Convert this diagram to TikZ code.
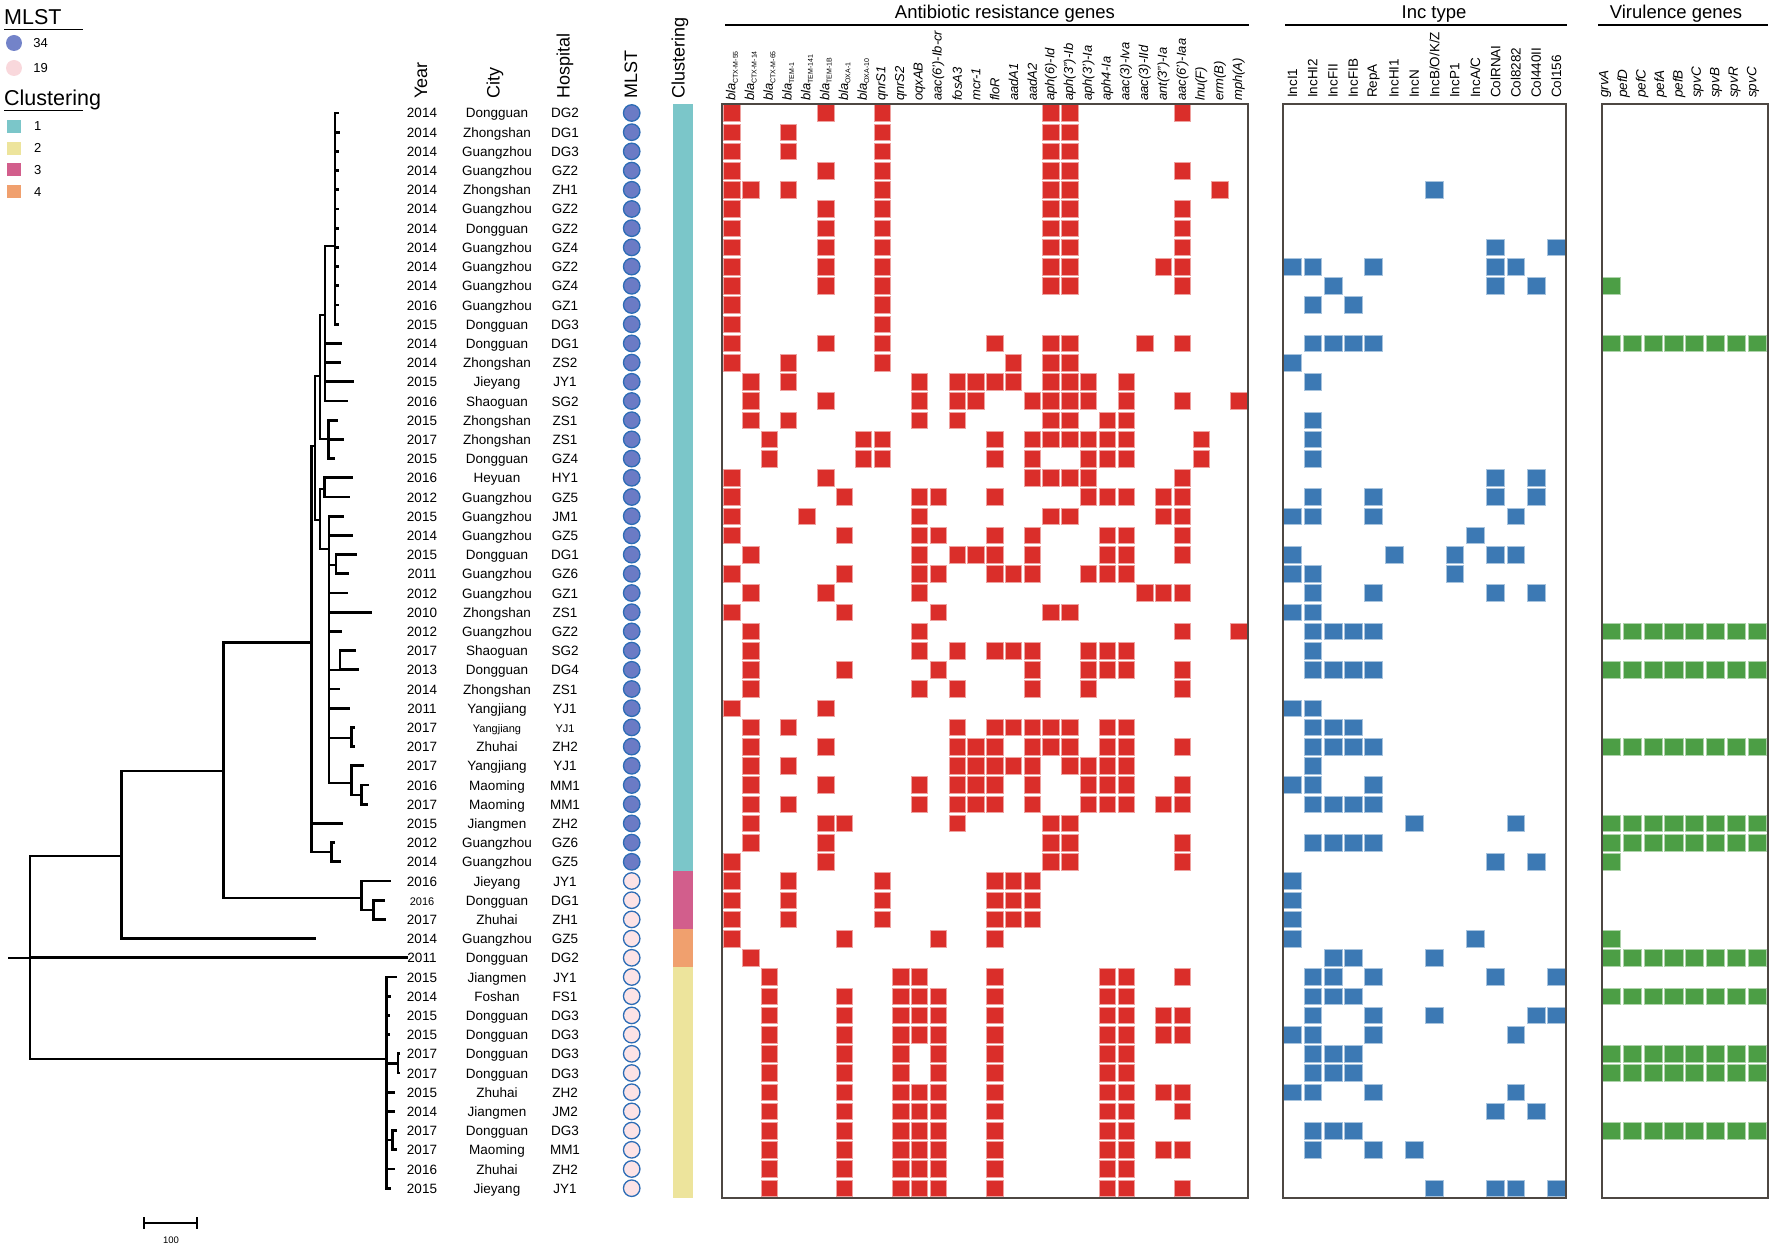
\documentclass[tikz,border=0pt]{standalone}
\usepackage{fontspec}
\setmainfont{Liberation Sans}
\usetikzlibrary{positioning}

\definecolor{clteal}{HTML}{7BC6C9}
\definecolor{clyellow}{HTML}{EDE49C}
\definecolor{clpink}{HTML}{D25E8C}
\definecolor{clorange}{HTML}{F0A06E}
\definecolor{abred}{HTML}{DA2E2A}
\definecolor{incblue}{HTML}{3C79B4}
\definecolor{virgreen}{HTML}{4C9E45}
\definecolor{stblue}{HTML}{6B7BC5}
\definecolor{stpink}{HTML}{FCE3E6}
\definecolor{stedge}{HTML}{2C6CB5}
\definecolor{legblue}{HTML}{7383C9}
\definecolor{legpink}{HTML}{F9D8DC}
\definecolor{framec}{HTML}{4D4742}

\newcommand\smtxt{\fontsize{11}{13}\selectfont}
\newcommand\blalab[1]{\textit{bla}\raisebox{-2.4pt}{\fontsize{7}{8}\selectfont\upshape #1}}

\begin{document}
\begin{tikzpicture}[x=1pt, y=-1pt,
  declare function={ry(\n)=113+19.2*(\n-1);},
  branch/.style={line width=2.8pt, line cap=rect},
  lab/.style={anchor=base, inner sep=0pt, font=\fontsize{13.5}{16}\selectfont},
  colhead/.style={rotate=90, anchor=west, inner sep=0pt, font=\fontsize{18}{20}\selectfont},
  abhead/.style={rotate=90, anchor=west, inner sep=0pt, font=\itshape\fontsize{13}{15}\selectfont},
  inchead/.style={rotate=90, anchor=west, inner sep=0pt, font=\fontsize{13.5}{15}\selectfont},
  virhead/.style={inchead, font=\itshape\fontsize{13.5}{15}\selectfont},
  title/.style={anchor=base, inner sep=0pt, font=\fontsize{18.5}{21}\selectfont},
  legtitle/.style={anchor=base west, inner sep=0pt, font=\fontsize{21.5}{24}\selectfont},
  legtext/.style={anchor=west, inner sep=0pt, font=\fontsize{13}{15}\selectfont},
  legbox/.style={minimum width=14pt, minimum height=13pt, inner sep=0pt},
  rule/.style={line width=2.4pt},
  frame/.style={draw=framec, line width=2pt},
  abcell/.style={fill=abred, draw=abred!45!white, line width=0.7pt},
  inccell/.style={fill=incblue, draw=incblue!45!white, line width=0.7pt},
  vircell/.style={fill=virgreen, draw=virgreen!45!white, line width=0.7pt},
  st34/.style={circle, minimum size=16.5pt, inner sep=0pt, fill=stblue, draw=stedge, line width=1.3pt},
  st19/.style={st34, fill=stpink}]

  \useasboundingbox (0,0) rectangle (1772,1249);

  % legend
  \node[legtitle] (mlsttitle) at (4,25) {MLST};
  \draw[line width=1.6pt] (4,29.5) -- (83,29.5);
  \node[circle, fill=legblue, minimum size=16pt, inner sep=0pt] (leg34) at (14,43) {};
  \node[legtext, right=11pt of leg34] (leg34t) {34};
  \node[circle, fill=legpink, minimum size=16pt, inner sep=0pt] (leg19) at (14,68) {};
  \node[legtext, right=11pt of leg19] (leg19t) {19};
  \node[legtitle] (cltitle) at (4,105.5) {Clustering};
  \draw[line width=1.6pt] (4,110.5) -- (83,110.5);
  \node[legbox, fill=clteal] (legc1) at (13.7,126.3) {};
  \node[legbox, fill=clyellow] (legc2) at (13.7,148.3) {};
  \node[legbox, fill=clpink] (legc3) at (13.7,170) {};
  \node[legbox, fill=clorange] (legc4) at (13.7,192) {};
  \foreach \k in {1,...,4}
    \node[legtext, right=13pt of legc\k] (legc\k t) {\k};

  % column headers
  \node[colhead] (hyear) at (421,99) {Year};
  \node[colhead] (hcity) at (495,99) {City};
  \node[colhead] (hhosp) at (565,99) {Hospital};
  \node[colhead] (hmlst) at (631,99) {MLST};
  \node[colhead] (hclust) at (680,99) {Clustering};

  \node[title] (abtitle) at (1005,19) {Antibiotic resistance genes};
  \draw[rule] (725,25) -- (1249,25);
  \node[title] (inctitle) at (1434,19) {Inc type};
  \draw[rule] (1285,25) -- (1567,25);
  \node[title] (virtitle) at (1676,19) {Virulence genes};
  \draw[rule] (1598,25) -- (1768,25);

  \foreach \nm [count=\k from 0] in {{\blalab{CTX-M-55}}, {\blalab{CTX-M-14}},
      {\blalab{CTX-M-65}}, {\blalab{TEM-1}}, {\blalab{TEM-141}}, {\blalab{TEM-1B}},
      {\blalab{OXA-1}}, {\blalab{OXA-10}}, qnrS1, qnrS2, oqxAB, aac(6')-Ib-cr, fosA3,
      mcr-1, floR, aadA1, aadA2, aph(6)-Id, aph(3")-Ib, aph(3')-Ia, aph4-Ia, aac(3)-Iva,
      aac(3)-IId, ant(3")-Ia, aac(6')-Iaa, lnu(F), erm(B), mph(A)}
    \node[abhead] (ab\k) at ({731.9+18.77*\k},101) {\nm};
  \foreach \nm [count=\k from 0] in {IncI1, IncHI2, IncFII, IncFIB, RepA, IncHI1, IncN,
      IncB/O/K/Z, IncP1, IncA/C, ColRNAI, Col8282, Col440II, Col156}
    \node[inchead] (inc\k) at ({1292.5+20.3*\k},98) {\nm};
  \foreach \nm [count=\k from 0] in {grvA, pefD, pefC, pefA, pefB, spvC, spvB, spvR, spvC}
    \node[virhead] (vir\k) at ({1605+18.5*\k},98) {\nm};

  % isolates
  \foreach \yr/\ct/\hp [count=\r] in {2014/Dongguan/DG2, 2014/Zhongshan/DG1,
      2014/Guangzhou/DG3, 2014/Guangzhou/GZ2, 2014/Zhongshan/ZH1, 2014/Guangzhou/GZ2,
      2014/Dongguan/GZ2, 2014/Guangzhou/GZ4, 2014/Guangzhou/GZ2, 2014/Guangzhou/GZ4,
      2016/Guangzhou/GZ1, 2015/Dongguan/DG3, 2014/Dongguan/DG1, 2014/Zhongshan/ZS2,
      2015/Jieyang/JY1, 2016/Shaoguan/SG2, 2015/Zhongshan/ZS1, 2017/Zhongshan/ZS1,
      2015/Dongguan/GZ4, 2016/Heyuan/HY1, 2012/Guangzhou/GZ5, 2015/Guangzhou/JM1,
      2014/Guangzhou/GZ5, 2015/Dongguan/DG1, 2011/Guangzhou/GZ6, 2012/Guangzhou/GZ1,
      2010/Zhongshan/ZS1, 2012/Guangzhou/GZ2, 2017/Shaoguan/SG2, 2013/Dongguan/DG4,
      2014/Zhongshan/ZS1, 2011/Yangjiang/YJ1, 2017/{\smtxt Yangjiang}/{\smtxt YJ1},
      2017/Zhuhai/ZH2, 2017/Yangjiang/YJ1, 2016/Maoming/MM1, 2017/Maoming/MM1,
      2015/Jiangmen/ZH2, 2012/Guangzhou/GZ6, 2014/Guangzhou/GZ5, 2016/Jieyang/JY1,
      {\smtxt 2016}/Dongguan/DG1, 2017/Zhuhai/ZH1, 2014/Guangzhou/GZ5, 2011/Dongguan/DG2,
      2015/Jiangmen/JY1, 2014/Foshan/FS1, 2015/Dongguan/DG3, 2015/Dongguan/DG3,
      2017/Dongguan/DG3, 2017/Dongguan/DG3, 2015/Zhuhai/ZH2, 2014/Jiangmen/JM2,
      2017/Dongguan/DG3, 2017/Maoming/MM1, 2016/Zhuhai/ZH2, 2015/Jieyang/JY1} {
    \node[lab] (yr\r) at (422,{ry(\r)+5}) {\yr};
    \node[lab] (city\r) at (497,{ry(\r)+5}) {\ct};
    \node[lab] (hosp\r) at (565,{ry(\r)+5}) {\hp};
  }
  \foreach \r in {1,...,40}
    \node[st34] (mlst\r) at (631.7,{ry(\r)}) {};
  \foreach \r in {41,...,57}
    \node[st19] (mlst\r) at (631.7,{ry(\r)}) {};

  % clustering bar
  \fill[clteal] (673,104) rectangle (693,871.4);
  \fill[clpink] (673,871.4) rectangle (693,929);
  \fill[clorange] (673,929) rectangle (693,967.4);
  \fill[clyellow] (673,967.4) rectangle (693,1198);

  % antibiotic resistance genes
  \foreach \r/\cols in {1/{0,5,8,17,18,24}, 2/{0,3,8,17,18}, 3/{0,3,8,17,18},
      4/{0,5,8,17,18,24}, 5/{0,1,3,8,17,18,26}, 6/{0,5,8,17,18,24}, 7/{0,5,8,17,18,24},
      8/{0,5,8,17,18,24}, 9/{0,5,8,17,18,23,24}, 10/{0,5,8,17,18,24}, 11/{0,8}, 12/{0,8},
      13/{0,5,8,14,17,18,22,24}, 14/{0,3,8,15,17,18},
      15/{1,3,10,12,13,14,15,17,18,19,21}, 16/{1,5,10,12,13,16,17,18,19,21,24,27},
      17/{1,3,10,12,17,18,20,21}, 18/{2,7,8,14,16,17,18,19,20,21,25},
      19/{2,7,8,14,16,19,20,21,25}, 20/{0,5,16,17,18,19,24},
      21/{0,6,10,11,14,19,20,21,23,24}, 22/{0,4,10,17,18,23,24},
      23/{0,6,10,11,14,16,20,21,24}, 24/{1,10,12,13,14,16,20,21,24},
      25/{0,6,10,11,14,15,16,19,20,21}, 26/{1,5,10,22,23,24}, 27/{0,6,11,17,18},
      28/{1,10,24,27}, 29/{1,10,12,14,15,16,19,20,21}, 30/{1,6,11,16,19,20,21,24},
      31/{1,10,12,16,19,24}, 32/{0,5}, 33/{1,3,12,14,15,16,17,18,20,21},
      34/{1,5,12,13,14,16,17,18,20,21,24}, 35/{1,3,12,13,14,15,16,18,19,20,21},
      36/{1,5,10,12,13,14,16,19,20,21,24}, 37/{1,3,10,12,13,14,16,19,20,21,23,24},
      38/{1,5,6,12,17,18}, 39/{1,5,17,18,24}, 40/{0,5,17,18,24}, 41/{0,3,8,14,15,16},
      42/{0,3,8,14,15,16}, 43/{0,3,8,14,15,16}, 44/{0,6,11,14}, 45/{1},
      46/{2,9,10,14,20,21,24}, 47/{2,6,9,10,11,14,20,21},
      48/{2,6,9,10,11,14,20,21,23,24}, 49/{2,6,9,10,11,14,20,21,23,24},
      50/{2,6,9,11,14,20,21}, 51/{2,6,9,11,14,20,21}, 52/{2,6,9,10,11,14,20,21,23,24},
      53/{2,6,9,10,11,14,20,21,24}, 54/{2,6,9,10,11,14,20,21},
      55/{2,6,9,10,11,14,20,21,23,24}, 56/{2,6,9,10,11,14,20,21},
      57/{2,6,9,10,11,14,20,21,24}}
    \foreach \c in \cols
      \draw[abcell] ({731.9+18.77*\c-8.2},{ry(\r)-8.3}) rectangle ++(16.4,16.6);

  % Inc types
  \foreach \r/\cols in {5/{7}, 8/{10,13}, 9/{0,1,4,10,11}, 10/{2,10,12}, 11/{1,3},
      13/{1,2,3,4}, 14/{0}, 15/{1}, 17/{1}, 18/{1}, 19/{1}, 20/{10,12}, 21/{1,4,10,12},
      22/{0,1,4,11}, 23/{9}, 24/{0,5,8,10,11}, 25/{0,1,8}, 26/{1,4,10,12}, 27/{0,1},
      28/{1,2,3,4}, 29/{1}, 30/{1,2,3,4}, 32/{0,1}, 33/{1,2,3}, 34/{1,2,3,4}, 35/{1},
      36/{0,1,4}, 37/{1,2,3,4}, 38/{6,11}, 39/{1,2,3,4}, 40/{10,12}, 41/{0}, 42/{0},
      43/{0}, 44/{0,9}, 45/{2,3,7}, 46/{1,2,4,10,13}, 47/{1,2,3}, 48/{1,4,7,12,13},
      49/{0,1,4,11}, 50/{1,2,3}, 51/{1,2,3}, 52/{0,1,4,11}, 53/{10,12}, 54/{1,2,3},
      55/{1,4,6}, 57/{7,10,11,13}}
    \foreach \c in \cols
      \draw[inccell] ({1292.5+20.3*\c-8.9},{ry(\r)-8.3}) rectangle ++(17.8,16.6);

  % virulence genes
  \foreach \r/\cols in {10/{0}, 13/{0,...,7}, 28/{0,...,7}, 30/{0,...,7}, 34/{0,...,7},
      38/{0,...,7}, 39/{0,...,7}, 40/{0}, 44/{0}, 45/{0,...,7}, 47/{0,...,7},
      50/{0,...,7}, 51/{0,...,7}, 54/{0,...,7}}
    \foreach \c in \cols
      \draw[vircell] ({1611.5+20.8*\c-9.1},{ry(\r)-8.3}) rectangle ++(18.2,16.6);

  \draw[frame] (722,104) rectangle (1248,1198);
  \draw[frame] (1283,104) rectangle (1566,1198);
  \draw[frame] (1602,104) rectangle (1768,1198);

  % tree
  \foreach \r/\tx in {1/337.5, 2/338.5, 3/337.5, 4/337.5, 5/337.5, 6/337.5, 7/337.5,
      8/337.5, 9/337.5, 10/337.5, 11/337.5, 12/337.5, 13/340.7, 14/340, 15/353,
      16/346.7, 17/336.7, 18/342.7, 19/333.3, 20/351.7, 21/349, 22/342.7, 23/351.7,
      24/356, 25/347.3, 26/346.7, 27/371, 28/340.7, 29/354.3, 30/357.7, 31/338.3,
      32/349, 33/353.5, 34/353.5, 35/362.3, 36/367.7, 37/366.7, 38/341.7, 39/333.5,
      40/340, 41/389.3, 42/383.3, 43/385, 44/314.3, 45/407, 46/396, 47/390, 48/389,
      49/389, 50/399, 51/399, 52/394, 53/394, 54/396, 55/396, 56/394, 57/390}
    \coordinate (t\r) at (\tx,{ry(\r)});

  \coordinate (T) at (335,246);
  \coordinate (A) at (325,315);
  \coordinate (S) at (328.3,439);
  \coordinate (B) at (320,376);
  \coordinate (C) at (315,446);
  \coordinate (D) at (320,520);
  \coordinate (E) at (324.3,489);
  \coordinate (F) at (329,549);
  \coordinate (F1) at (336,565);
  \coordinate (F2) at (340,670);
  \coordinate (F3) at (351.7,738);
  \coordinate (F4) at (351.7,783);
  \coordinate (F5) at (361.7,795);
  \coordinate (G) at (311.7,642.5);
  \coordinate (H) at (331.7,852);
  \coordinate (I) at (223.3,771);
  \coordinate (J) at (361.7,898);
  \coordinate (K) at (373.3,910);
  \coordinate (L) at (121.7,856);
  \coordinate (M) at (30,958);
  \coordinate (N) at (386.7,1059);
  \coordinate (P) at (398,1063.4);
  \coordinate (Q) at (392.7,1140);
  \coordinate (root) at (9.3,958);

  \foreach \r in {1,...,12}
    \draw[branch] (T) |- (t\r);
  \foreach \p/\c in {A/T, A/t13, A/t14, A/t15, A/t16, S/t17, S/t18, S/t19, B/A, B/S,
      C/B, C/D, D/E, D/F, E/t20, E/t21, F/t22, F/t23, F/F1, F1/t24, F1/t25, F/t26,
      F/t27, F/t28, F/F2, F2/t29, F2/t30, F/t31, F/t32, F/F3, F3/t33, F3/t34, F/F4,
      F4/t35, F4/F5, F5/t36, F5/t37, G/C, G/t38, G/H, H/t39, H/t40, I/G, I/J, J/t41,
      J/K, K/t42, K/t43, L/I, L/t44, M/L, M/t45, M/N, N/t46, N/t47, N/t48, N/t49, N/P,
      P/t50, P/t51, N/t52, N/t53, N/Q, Q/t54, Q/t55, N/t56, N/t57}
    \draw[branch] (\p) |- (\c);
  \draw[branch] (root) -- (M);

  % scale bar
  \coordinate (sbl) at (144,1223);
  \coordinate (sbr) at (197,1223);
  \draw[line width=1.8pt] (sbl) -- (sbr);
  \draw[line width=1.8pt] ([yshift=6pt]sbl) -- ([yshift=-6pt]sbl);
  \draw[line width=1.8pt] ([yshift=6pt]sbr) -- ([yshift=-6pt]sbr);
  \node[inner sep=0pt, font=\fontsize{9.5}{11}\selectfont] (sblab) at (171,1240) {100};

\end{tikzpicture}
\end{document}
